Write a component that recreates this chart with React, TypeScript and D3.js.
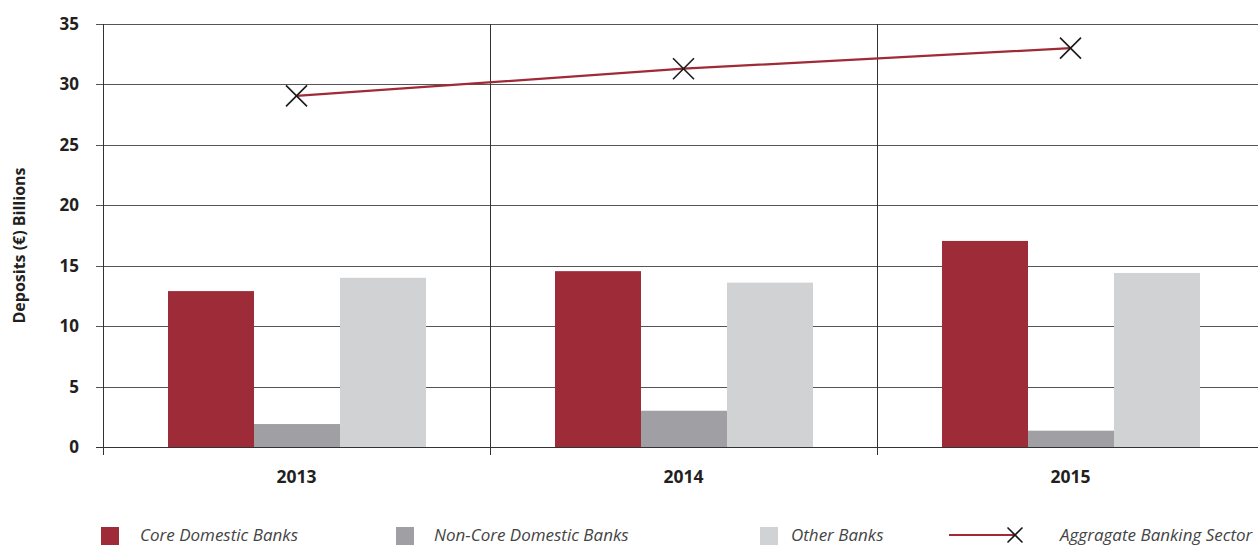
import React from "react";
import * as d3 from "d3";

const years = ["2013", "2014", "2015"];
const series = ["Core Domestic Banks", "Non-Core Domestic Banks", "Other Banks"];
const coreDomestic = [12.9, 14.55, 17.05];
const nonCoreDomestic = [1.9, 3.0, 1.35];
const otherBanks = [14.0, 13.6, 14.4];
const aggregate = [29.05, 31.3, 33.0];
const yTicks = [0, 5, 10, 15, 20, 25, 30, 35];
const lineLabel = "Aggragate Banking Sector";

const colors = ["#9e2b38", "#a0a0a4", "#d1d2d4"];
const lineColor = "#a02a36";

export default function App() {
  const W = 1258, H = 546;
  const left = 103, top = 24, bottom = 447;
  const band = 387;
  const x = d3.scaleBand<string>().domain(years).range([left, left + band * years.length]).paddingInner(0).paddingOuter(0);
  const y = d3.scaleLinear().domain([0, 35]).range([bottom, top]);
  const inner = d3.scaleBand<string>().domain(series).range([65, 65 + 86 * 3]);
  const values = [coreDomestic, nonCoreDomestic, otherBanks];
  const line = d3.line<number>().x((_, i) => (x(years[i]) as number) + band / 2).y((d) => y(d));
  const font = "'Open Sans', 'DejaVu Sans', sans-serif";
  const Cross = ({ cx, cy, s }: { cx: number; cy: number; s: number }) => (
    <g stroke="#1a1a1a" strokeWidth={1.6}>
      <line x1={cx - s} y1={cy - s} x2={cx + s} y2={cy + s} />
      <line x1={cx - s} y1={cy + s} x2={cx + s} y2={cy - s} />
    </g>
  );
  return (
    <svg width={W} height={H} style={{ position: "absolute", left: 0, top: 0 }} fontFamily={font}>
      <rect width={W} height={H} fill="#fff" />
      {yTicks.map((t) => (
        <line key={t} x1={96} x2={W} y1={Math.round(y(t)) + 0.5} y2={Math.round(y(t)) + 0.5} stroke="#555" strokeWidth={1} />
      ))}
      {years.map((yr, i) => {
        const bx = x(yr) as number;
        return (
          <g key={yr}>
            {series.map((s, j) => (
              <rect key={s} x={bx + (inner(s) as number)} width={inner.bandwidth()} y={y(values[j][i])} height={bottom - y(values[j][i])} fill={colors[j]} />
            ))}
            <line x1={Math.round(bx + band) + 0.5} x2={Math.round(bx + band) + 0.5} y1={top} y2={bottom + 8} stroke="#333" />
            <text x={bx + band / 2} y={483} textAnchor="middle" fontWeight="bold" fontSize={17.5} fill="#231f20">{yr}</text>
          </g>
        );
      })}
      <line x1={left + 0.5} x2={left + 0.5} y1={top} y2={bottom + 8} stroke="#333" />
      <line x1={96} x2={W} y1={Math.round(bottom) + 0.5} y2={Math.round(bottom) + 0.5} stroke="#333" />
      {yTicks.map((t) => (
        <text key={t} x={79} y={y(t) + 6} textAnchor="end" fontWeight="bold" fontSize={17} fill="#231f20">{t}</text>
      ))}
      <text transform={`translate(25, ${(top + bottom) / 2 + 10}) rotate(-90)`} textAnchor="middle" fontWeight="bold" fontSize={16} fill="#231f20">Deposits (€) Billions</text>
      <path d={line(aggregate) || ""} fill="none" stroke={lineColor} strokeWidth={2.2} />
      {aggregate.map((v, i) => (
        <Cross key={i} cx={(x(years[i]) as number) + band / 2} cy={y(v)} s={10.5} />
      ))}
      {/* Legend */}
      {series.map((s, j) => {
        const lx = [101, 396, 760][j];
        const tx = [140, 434, 791][j];
        return (
          <g key={s}>
            <rect x={lx} y={527} width={18} height={18} fill={colors[j]} />
            <text x={tx} y={541} fontStyle="italic" fontSize={17} fill="#444">{s}</text>
          </g>
        );
      })}
      <line x1={949} x2={1014} y1={535} y2={535} stroke={lineColor} strokeWidth={2.2} />
      <Cross cx={1015} cy={535} s={7.5} />
      <text x={1060} y={541} fontStyle="italic" fontSize={17} fill="#444">{lineLabel}</text>
    </svg>
  );
}
